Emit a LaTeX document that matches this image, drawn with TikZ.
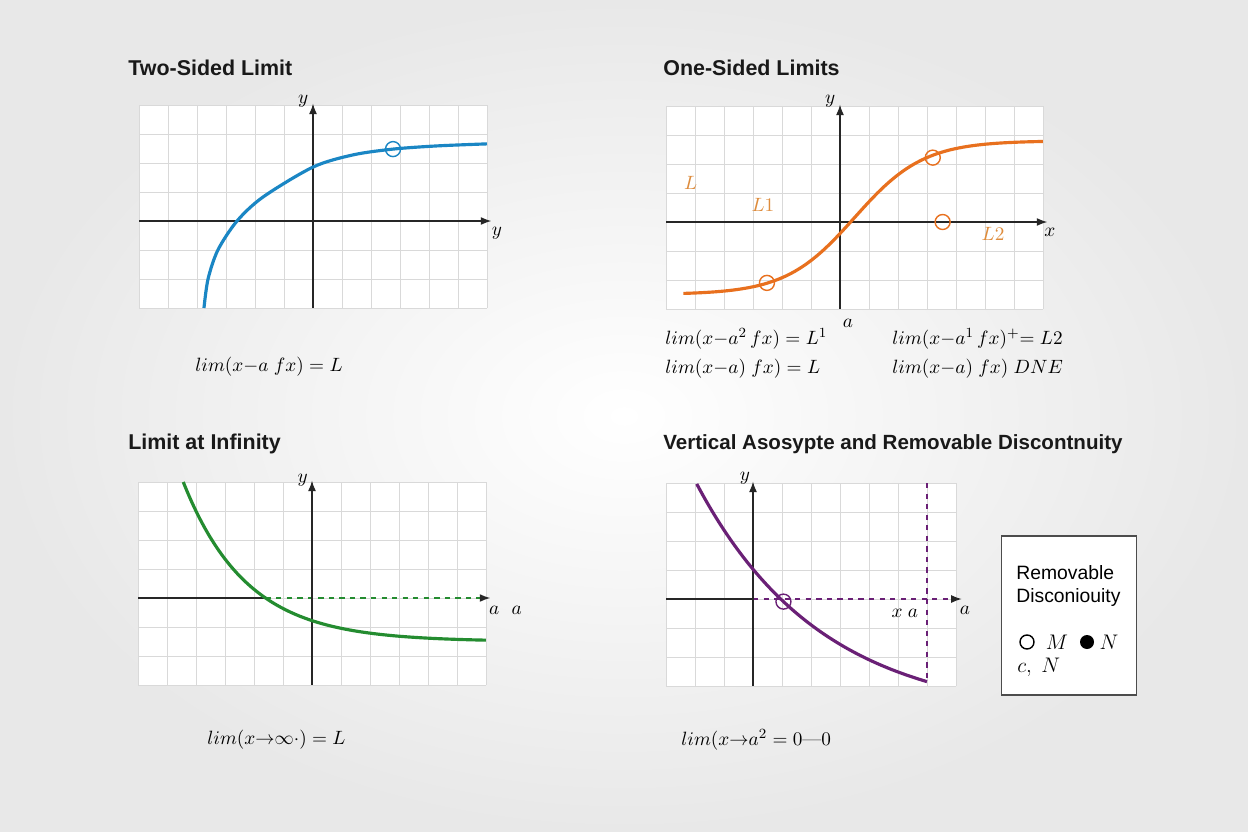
\documentclass[tikz,border=0pt]{standalone}
\usepackage{fontspec}
\setsansfont{Liberation Sans}
\usetikzlibrary{arrows.meta}
\definecolor{blueline}{RGB}{26,134,196}
\definecolor{orangeline}{RGB}{232,112,30}
\definecolor{orangetext}{RGB}{222,140,60}
\definecolor{greenline}{RGB}{36,140,48}
\definecolor{purpleline}{RGB}{106,32,118}
\begin{document}
\begin{tikzpicture}[x=0.02cm,y=-0.02cm,>={Latex[length=6pt,width=4.5pt]},
    title/.style={anchor=west,inner sep=0pt,text=black!90,font=\sffamily\bfseries\fontsize{12.2}{15}\selectfont},
    formula/.style={anchor=west,inner sep=0pt,font=\fontsize{10.8}{13}\selectfont},
    lbl/.style={inner sep=0pt,font=\fontsize{11}{13}\selectfont},
    gridline/.style={black!15,line width=0.5pt},
    axis/.style={black!85,line width=0.7pt},
    curve/.style={line width=1.8pt},
    hole/.style={circle,draw,line width=0.8pt,minimum size=0.3cm,inner sep=0pt}]
    \shade[inner color=white,outer color=black!9] (0,0) rectangle (1248,832);
    \useasboundingbox (0,0) rectangle (1248,832);
    % two-sided limit
    \node[title] (t1) at (128,68) {Two-Sided Limit};
    \begin{scope}[shift={(313,221)},x=0.58cm,y=0.58cm]
        \fill[white] (-6,-3) rectangle (6,4);
        \foreach \i in {-6,...,6} \draw[gridline] (\i,-3) -- (\i,4);
        \foreach \j in {-3,...,4} \draw[gridline] (-6,\j) -- (6,\j);
        \draw[axis,->] (-6,0) -- (6.15,0);
        \draw[axis,->] (0,-3) -- (0,4.05);
        \node[lbl] (y1) at (-0.34,4.12) {$y$};
        \node[lbl] (x1) at (6.34,-0.41) {$y$};
        \draw[curve,blueline] plot[smooth] coordinates {(-3.76,-3) (-3.62,-2) (-3.28,-1) (-2.62,0) (-1.72,0.83) (0,1.86) (1.38,2.28) (2.76,2.48) (4.28,2.59) (6,2.66)};
        \node[hole,draw=blueline] (p1) at (2.76,2.48) {};
    \end{scope}
    \node[formula] (f1) at (195,367) {$lim(x{-}a\;fx)=L$};
    % one-sided limits
    \node[title] (t2) at (663,68) {One-Sided Limits};
    \begin{scope}[shift={(840,222)},x=0.58cm,y=0.58cm]
        \fill[white] (-6,-3) rectangle (7,4);
        \foreach \i in {-6,...,7} \draw[gridline] (\i,-3) -- (\i,4);
        \foreach \j in {-3,...,4} \draw[gridline] (-6,\j) -- (7,\j);
        \draw[axis,->] (-6,0) -- (7.15,0);
        \draw[axis,->] (0,-3) -- (0,4.05);
        \node[lbl] (y2) at (-0.34,4.15) {$y$};
        \node[lbl] (x2) at (7.24,-0.37) {$x$};
        \node[lbl] (a2) at (0.27,-3.48) {$a$};
        \node[lbl,text=orangetext] (L) at (-5.15,1.36) {$L$};
        \node[lbl,text=orangetext] (L1) at (-2.66,0.59) {$L1$};
        \node[lbl,text=orangetext] (L2) at (5.28,-0.41) {$L2$};
        \draw[curve,orangeline] plot[domain=-5.4:7,samples=90,smooth] (\x,{0.15+2.65*tanh(0.42*(\x-0.5))});
        \node[hole,draw=orangeline] (p2) at (-2.52,-2.1) {};
        \node[hole,draw=orangeline] (p3) at (3.2,2.22) {};
        \node[hole,draw=orangeline] (p4) at (3.54,0) {};
    \end{scope}
    \node[formula] (f2) at (665,339) {$lim(x{-}a^2\,fx) = L^1$};
    \node[formula] (f3) at (665,369) {$lim(x{-}a)\;fx) = L$};
    \node[formula] (f4) at (892,339) {$lim(x{-}a^1\,fx)^{+}{=}\;L2$};
    \node[formula] (f5) at (892,369) {$lim(x{-}a)\;fx)\;DNE$};
    % limit at infinity
    \node[title] (t3) at (128,444) {Limit at Infinity};
    \begin{scope}[shift={(312,598)},x=0.58cm,y=0.58cm]
        \fill[white] (-6,-3) rectangle (6,4);
        \foreach \i in {-6,...,6} \draw[gridline] (\i,-3) -- (\i,4);
        \foreach \j in {-3,...,4} \draw[gridline] (-6,\j) -- (6,\j);
        \draw[axis] (-6,0) -- (-1.6,0);
        \draw[greenline,line width=0.8pt,dashed,-{Latex[length=6pt,width=4.5pt,black!85]}] (-1.6,0) -- (6.15,0);
        \draw[axis,->] (0,-3) -- (0,4.05);
        \node[lbl] (y3) at (-0.32,4.06) {$y$};
        \node[lbl,anchor=west] (x3) at (6.1,-0.41) {$a\hspace{7pt}a$};
        \draw[curve,greenline] plot[domain=-4.44:6,samples=90,smooth] (\x,{-1.5+0.72*exp(-0.458*\x)});
    \end{scope}
    \node[formula] (f6) at (207,740) {$lim(x{\to}\infty\cdot) = L$};
    % vertical asymptote
    \node[title,font=\sffamily\bfseries\fontsize{11.7}{15}\selectfont] (t4) at (663,444) {Vertical Asosypte and Removable Discontnuity};
    \begin{scope}[shift={(753,599)},x=0.58cm,y=0.58cm]
        \fill[white] (-3,-3) rectangle (7,4);
        \foreach \i in {-3,...,7} \draw[gridline] (\i,-3) -- (\i,4);
        \foreach \j in {-3,...,4} \draw[gridline] (-3,\j) -- (7,\j);
        \draw[axis] (-3,0) -- (0,0);
        \draw[purpleline,line width=0.8pt,dashed,-{Latex[length=6pt,width=4.5pt,black!85]}] (0,0) -- (7.2,0);
        \draw[purpleline,line width=0.8pt,dashed] (6,4) -- (6,-2.85);
        \draw[axis,->] (0,-3) -- (0,4.05);
        \node[lbl] (y4) at (-0.28,4.18) {$y$};
        \node[lbl] (x4) at (7.31,-0.38) {$a$};
        \node[lbl] (xa) at (5.24,-0.49) {$x\;a$};
        \draw[curve,purpleline] plot[domain=-1.94:6,samples=80,smooth] (\x,{-4.122+5.149*exp(-0.233*\x)});
        \node[hole,draw=purpleline] (p5) at (1.05,-0.09) {};
    \end{scope}
    \node[formula] (f7) at (681,740) {$lim(x{\to}a^2 = 0\mbox{---}0$};
    % legend
    \node[draw=black!70,line width=0.8pt,fill=white,minimum width=2.7cm,minimum height=3.18cm,inner sep=0pt] (legend) at (1069,615.5) {};
    \node[anchor=west,inner sep=0pt,font=\sffamily\fontsize{11}{13}\selectfont] (leg1) at (1016,573) {Removable};
    \node[anchor=west,inner sep=0pt,font=\sffamily\fontsize{11}{13}\selectfont] (leg2) at (1016,597) {Disconiouity};
    \node[hole,draw=black,minimum size=0.28cm] (open) at (1027,642) {};
    \node[lbl,font=\fontsize{12}{14}\selectfont] (M) at (1057,642) {$M$};
    \node[circle,fill=black,minimum size=0.28cm,inner sep=0pt] (closed) at (1087,642) {};
    \node[lbl,font=\fontsize{12}{14}\selectfont] (N) at (1109,642) {$N$};
    \node[lbl,anchor=west,font=\fontsize{12}{14}\selectfont] (cN) at (1017,667) {$c,\;N$};
\end{tikzpicture}
\end{document}
